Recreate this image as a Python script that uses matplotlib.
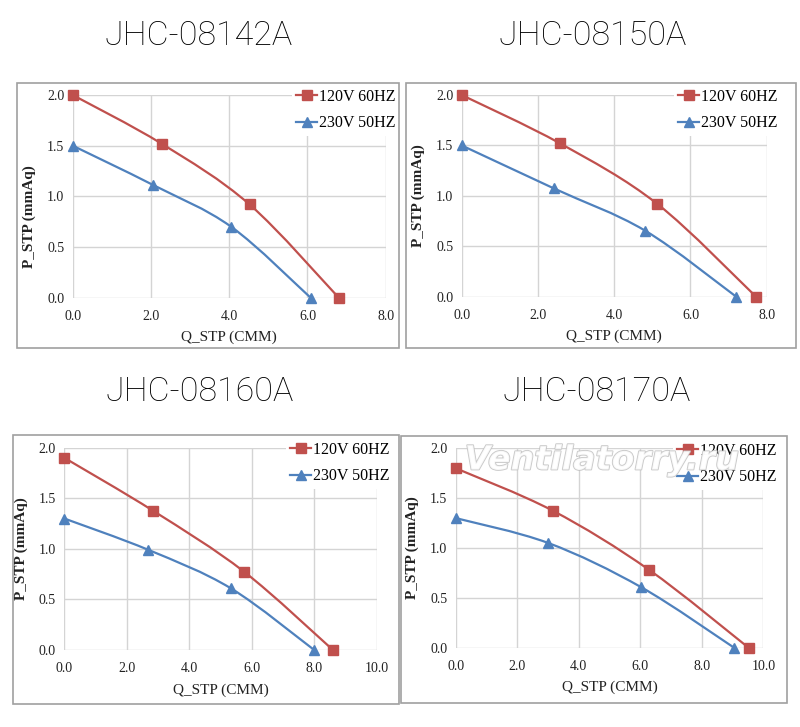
import matplotlib
matplotlib.use('Agg')
import matplotlib.pyplot as plt
import matplotlib.patheffects as pe
from matplotlib.path import Path
from matplotlib.patches import PathPatch, Rectangle
from matplotlib.lines import Line2D

# data
titles = ['JHC-08142A', 'JHC-08150A', 'JHC-08160A', 'JHC-08170A']
series_names = ['120V 60HZ', '230V 50HZ']
q_120 = [[0, 2.27, 4.52, 6.8], [0, 2.58, 5.13, 7.72],
         [0, 2.85, 5.75, 8.6], [0, 3.15, 6.29, 9.52]]
p_120 = [[2.0, 1.52, 0.92, 0.0], [2.0, 1.52, 0.92, 0.0],
         [1.9, 1.375, 0.775, 0.0], [1.8, 1.375, 0.78, 0.0]]
q_230 = [[0, 2.04, 4.05, 6.08], [0, 2.41, 4.81, 7.2],
         [0, 2.69, 5.33, 8.0], [0, 3.01, 6.04, 9.05]]
p_230 = [[1.5, 1.115, 0.70, 0.0], [1.5, 1.075, 0.655, 0.0],
         [1.3, 0.99, 0.61, 0.0], [1.3, 1.05, 0.605, 0.0]]
x_max = [8, 8, 10, 10]
x_ticks = [[0, 2, 4, 6, 8], [0, 2, 4, 6, 8],
           [0, 2, 4, 6, 8, 10], [0, 2, 4, 6, 8, 10]]
y_ticks = [0, 0.5, 1.0, 1.5, 2.0]

RED = '#c0504d'
BLUE = '#4f81bd'
SERIF = 'Liberation Serif'

W, H = 800, 727

# layout in pixels (left, top, right, bottom)
axes_px = [(72.7, 95, 385.7, 297.7), (461.7, 95, 766.7, 296.7),
           (64.3, 447.7, 376.7, 650), (455.7, 448.3, 763.3, 647.7)]
frames_px = [(17, 83, 399, 348), (406, 83, 796, 348),
             (13, 435, 399, 704), (401, 436, 787, 703)]
title_px = [(199, 36), (593, 36), (200, 392), (597, 392)]
legend_px = [(400, 84), (782, 84), (394, 437), (781, 438)]
ylabel_y = [0.40, 0.5, 0.5, 0.5]


def smooth_path(xs, ys):
    # excel-like smoothed line: catmull-rom segments as cubic beziers
    pts = list(zip(xs, ys))
    n = len(pts)
    verts = [pts[0]]
    codes = [Path.MOVETO]
    for i in range(n - 1):
        p0 = pts[i - 1] if i > 0 else pts[i]
        p1 = pts[i]
        p2 = pts[i + 1]
        p3 = pts[i + 2] if i + 2 < n else pts[i + 1]
        c1 = (p1[0] + (p2[0] - p0[0]) / 6, p1[1] + (p2[1] - p0[1]) / 6)
        c2 = (p2[0] - (p3[0] - p1[0]) / 6, p2[1] - (p3[1] - p1[1]) / 6)
        verts += [c1, c2, p2]
        codes += [Path.CURVE4] * 3
    return Path(verts, codes)


fig = plt.figure(figsize=(W / 100, H / 100), dpi=100)
fig.patch.set_facecolor('white')

for k in range(4):
    l, t, r, b = axes_px[k]
    ax = fig.add_axes([l / W, 1 - b / H, (r - l) / W, (b - t) / H])

    fl, ft, fr, fb = frames_px[k]
    fig.patches.append(Rectangle((fl / W, 1 - fb / H), (fr - fl) / W, (fb - ft) / H,
                                 transform=fig.transFigure, fill=False,
                                 edgecolor='#a0a0a0', lw=1.2, zorder=0))

    ax.set_xlim(0, x_max[k])
    ax.set_ylim(0, 2.0)
    ax.set_xticks(x_ticks[k])
    ax.set_yticks(y_ticks)
    ax.set_xticklabels(['%.1f' % v for v in x_ticks[k]], family=SERIF, fontsize=10)
    ax.set_yticklabels(['%.1f' % v for v in y_ticks], family=SERIF, fontsize=10)
    ax.tick_params(length=0, colors='#222222')
    ax.tick_params(axis='x', pad=9)
    ax.tick_params(axis='y', pad=6)
    for s in ax.spines.values():
        s.set_visible(False)
    ax.grid(True, color='#d4d4d4', lw=1.0)
    ax.set_axisbelow(True)

    for qs, ps, col, mk, ms in [(q_120[k], p_120[k], RED, 's', 6.5),
                                (q_230[k], p_230[k], BLUE, '^', 7)]:
        ax.add_patch(PathPatch(smooth_path(qs, ps), fill=False, edgecolor=col,
                               lw=1.6, clip_on=False, zorder=3))
        ax.plot(qs, ps, ls='none', marker=mk, ms=ms, color=col,
                clip_on=False, zorder=4)

    handles = [Line2D([], [], color=RED, lw=1.6, marker='s', ms=6.5),
               Line2D([], [], color=BLUE, lw=1.6, marker='^', ms=7)]
    lx, ly = legend_px[k]
    leg = ax.legend(handles, series_names, loc='upper right',
                    bbox_to_anchor=(lx / W, 1 - ly / H), bbox_transform=fig.transFigure,
                    prop={'family': SERIF, 'size': 11.5}, frameon=True,
                    facecolor='white', edgecolor='none', framealpha=1,
                    fancybox=False, borderpad=0.3, handlelength=1.3,
                    handletextpad=0.1, labelspacing=0.65, borderaxespad=0)
    leg.set_zorder(5)

    ax.set_xlabel('Q_STP (CMM)', family=SERIF, fontsize=11, color='#222222')
    ax.xaxis.set_label_coords(0.5, -40 / (b - t))
    ax.xaxis.label.set_va('center')
    ax.set_ylabel('P_STP (mmAq)', family=SERIF, fontsize=11, fontweight='bold',
                  color='#222222')
    ax.yaxis.set_label_coords(-43 / (r - l), ylabel_y[k])
    ax.yaxis.label.set_va('center')

    tx, ty = title_px[k]
    fig.text(tx / W, 1 - ty / H, titles[k], ha='center', va='center',
             family='Roboto', fontweight='light', fontsize=24.5, color='black')

# watermark on the last panel
wm = fig.text(602 / W, 1 - 460 / H, 'Ventilatorry.ru', ha='center', va='center',
              family='DejaVu Sans', fontweight='bold', style='italic', fontsize=24,
              color='white', alpha=0.85, zorder=10)
wm.set_path_effects([pe.withStroke(linewidth=1.3, foreground='#c0c0c0')])

fig.savefig('out.png', dpi=100)
